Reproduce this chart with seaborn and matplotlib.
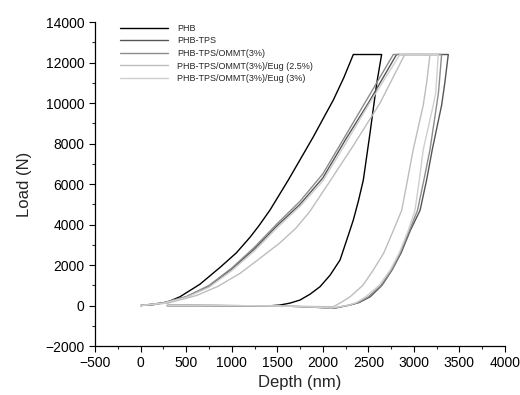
import numpy as np
import pandas as pd
import seaborn as sns
import matplotlib.pyplot as plt

# depth (nm) / load (N): loading, hold, unloading, retraction
phb_depth = [0, 150, 300, 432, 650, 872, 1050, 1201, 1300, 1420, 1621, 1750, 1896, 2000, 2115, 2230, 2335, 2646,
             2592, 2518, 2445, 2390, 2335, 2260, 2189, 2080, 1969, 1860, 1750, 1640, 1530, 1400, 1000, 600, 290]
phb_load = [0, 50, 180, 435, 1050, 1886, 2600, 3373, 3950, 4716, 6198, 7200, 8336, 9200, 10148, 11250, 12400, 12400,
            10973, 8504, 6198, 5150, 4222, 3200, 2247, 1500, 928, 560, 272, 120, 25, -20, -10, 0, 0]

tps_depth = [0, 250, 500, 750, 1000, 1250, 1500, 1750, 2000, 2250, 2500, 2810, 3378,
             3340, 3305, 3202, 3140, 3068, 2960, 2860, 2760, 2650, 2520, 2400, 2300, 2120,
             1900, 1600, 1200, 800, 290]
tps_load = [0, 130, 420, 950, 1800, 2800, 3950, 5000, 6300, 8200, 10000, 12400, 12400,
            11000, 9900, 7700, 6200, 4700, 3700, 2600, 1750, 1000, 430, 150, 25, -140,
            -80, -30, -10, 0, 0]

ommt_depth = [0, 250, 500, 750, 1000, 1250, 1500, 1750, 2000, 2250, 2500, 2774, 3305,
              3270, 3250, 3177, 3110, 3040, 2950, 2850, 2756, 2640, 2500, 2390, 2290, 2110,
              1900, 1600, 1200, 800, 290]
ommt_load = [0, 140, 440, 990, 1850, 2880, 4050, 5150, 6500, 8400, 10300, 12400, 12400,
             10500, 9900, 7700, 6200, 4700, 3700, 2600, 1750, 1000, 430, 150, 20, -130,
             -80, -30, -10, 0, 0]

eug25_depth = [0, 300, 616, 850, 1091, 1300, 1530, 1700, 1850, 2043, 2335, 2628, 2900, 3177,
               3140, 3103, 2993, 2930, 2866, 2774, 2670, 2554, 2440, 2299, 2200, 2115,
               1900, 1600, 1200, 800, 290]
eug25_load = [0, 120, 500, 950, 1590, 2300, 3100, 3800, 4600, 5900, 7900, 10000, 12400, 12400,
              11000, 9900, 7700, 6200, 4700, 3700, 2600, 1750, 1000, 430, 150, -60,
              -50, -20, -10, 0, 0]

eug3_depth = [0, 250, 500, 750, 1000, 1250, 1500, 1750, 2000, 2250, 2500, 2847, 3268,
              3240, 3213, 3103, 3060, 3012, 2938, 2840, 2740, 2620, 2470, 2370, 2280, 2100,
              1900, 1600, 1200, 800, 290]
eug3_load = [0, 120, 400, 900, 1720, 2700, 3850, 4900, 6150, 8000, 9900, 12400, 12400,
             10500, 9900, 7700, 6200, 4700, 3700, 2600, 1750, 1000, 430, 150, 10, -120,
             -70, -30, -10, 0, 0]

names = ['PHB', 'PHB-TPS', 'PHB-TPS/OMMT(3%)', 'PHB-TPS/OMMT(3%)/Eug (2.5%)', 'PHB-TPS/OMMT(3%)/Eug (3%)']
depths = [phb_depth, tps_depth, ommt_depth, eug25_depth, eug3_depth]
loads = [phb_load, tps_load, ommt_load, eug25_load, eug3_load]
colors = ['#000000', '#555555', '#8c8c8c', '#bdbdbd', '#cfcfcf']

sns.set_style('ticks')
plt.rcParams['font.family'] = ['Liberation Sans', 'DejaVu Sans']

fig = plt.figure(figsize=(5.2, 3.95), dpi=100)
ax = fig.add_axes([0.183, 0.124, 0.788, 0.82])

for name, d, l, c in zip(names, depths, loads, colors):
    df = pd.DataFrame({'depth': d, 'load': l})
    sns.lineplot(data=df, x='depth', y='load', sort=False, estimator=None,
                 color=c, lw=1.0, label=name, ax=ax)

ax.set_xlim(-500, 4000)
ax.set_ylim(-2000, 14000)
ax.set_xticks(np.arange(-500, 4001, 500))
ax.set_yticks(np.arange(-2000, 14001, 2000))
ax.set_xticks(np.arange(-250, 4000, 500), minor=True)
ax.set_yticks(np.arange(-1000, 14000, 2000), minor=True)
ax.tick_params(which='major', direction='out', length=4, width=0.8, labelsize=10, colors='black')
ax.tick_params(which='minor', direction='out', length=2.5, width=0.8)
for s in ['top', 'right']:
    ax.spines[s].set_visible(False)
for s in ['left', 'bottom']:
    ax.spines[s].set_color('black')
    ax.spines[s].set_linewidth(0.9)

ax.set_xlabel('Depth (nm)', fontsize=12, labelpad=3)
ax.set_ylabel('Load (N)', fontsize=12, labelpad=10)

ax.legend(loc='upper left', bbox_to_anchor=(0.04, 1.02), frameon=False, fontsize=6.5,
          handlelength=5.3, labelspacing=0.4, handletextpad=1.1)

fig.savefig('out.png', dpi=100)
